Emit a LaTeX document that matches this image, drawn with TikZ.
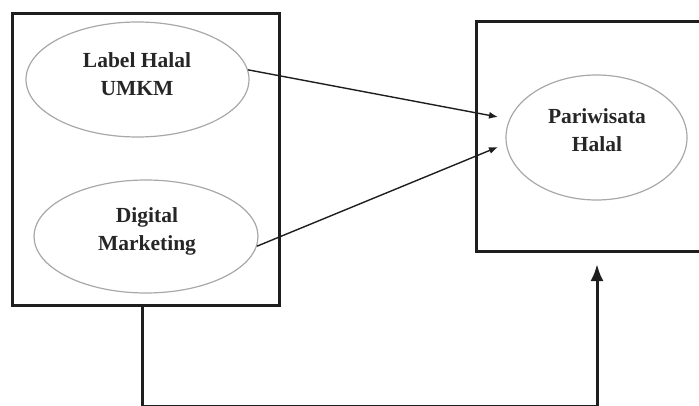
\documentclass[tikz,border=0pt]{standalone}
\usepackage{fontspec}
\setmainfont{Liberation Serif}
\usetikzlibrary{shapes.geometric,arrows.meta}
\definecolor{ink}{HTML}{1E1E1E}
\definecolor{ell}{HTML}{A8A8A8}
\definecolor{txt}{HTML}{262626}
\begin{document}
\begin{tikzpicture}[x=1pt,y=-1pt,
  box/.style={draw=ink,line width=3pt,rectangle,inner sep=0pt},
  oval/.style={draw=ell,line width=1.2pt,ellipse,inner sep=0pt},
  lbl/.style={font=\fontsize{21.5}{28}\selectfont\bfseries,text=txt,align=center,inner sep=0pt},
  thin/.style={draw=ink,line width=1.4pt,-{Latex[length=9pt,width=7pt]}},
  thick/.style={draw=ink,line width=3pt,-{Latex[length=17pt,width=13pt]}}]
\useasboundingbox (0,0) rectangle (699,406);
% boxes
\node[box,minimum width=267pt,minimum height=291pt] (lbox) at (145.5,159.5) {};
\node[box,minimum width=240pt,minimum height=230pt] (rbox) at (596,137) {};
% ellipses
\node[oval,minimum width=223pt,minimum height=115pt] (e1) at (137.5,79.5) {};
\node[oval,minimum width=224pt,minimum height=113pt] (e2) at (146,236.5) {};
\node[oval,minimum width=181pt,minimum height=125pt] (e3) at (596.5,137.5) {};
% labels
\node[lbl] (t1) at (137,74) {Label Halal\\UMKM};
\node[lbl] (t2) at (147,231) {Digital\\Marketing};
\node[lbl] (t3) at (597,130) {Pariwisata\\Halal};
% connectors
\coordinate (p1) at (498,117);
\coordinate (p2) at (498,147);
\draw[thin] (e1.5) -- (p1);
\draw[thin] (e2.-5) -- (p2);
\coordinate (b1) at (142,406);
\coordinate (b2) at (597,406);
\coordinate (tip) at (597,264);
\draw[thick] (lbox.south -| b1) -- (b1) -- (b2) -- (tip);
\end{tikzpicture}
\end{document}
